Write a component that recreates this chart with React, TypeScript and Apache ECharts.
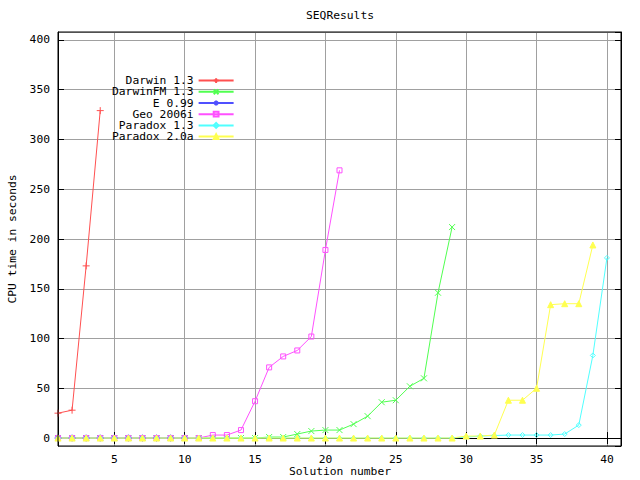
import React, { useEffect, useRef } from "react";
import * as echarts from "echarts";

const FONT = "'DejaVu Sans Mono', monospace";
const FS = 11.3;

const chartTitle = "SEQResults";
const xTitle = "Solution number";
const yTitle = "CPU time in seconds";

const seriesNames = ["Darwin 1.3", "DarwinFM 1.3", "E 0.99", "Geo 2006i", "Paradox 1.3", "Paradox 2.0a"];
const seriesColors = ["#ff5050", "#50ff50", "#5050ff", "#ff50ff", "#50ffff", "#ffff50"];

// CPU time in seconds, for solution numbers 1, 2, 3, ...
const darwin13 = [25, 28, 173, 329];
const darwinFM13 = [0, 0, 0, 0, 0, 0, 0, 0, 0, 0, 0, 0, 0, 0, 0, 1, 1, 4, 7, 8, 8, 14, 22, 36, 38, 52, 60, 146, 212];
const e099 = [0, 0, 0, 0, 0, 0, 0, 0, 0, 0];
const geo2006i = [0, 0, 0, 0, 0, 0, 0, 0, 0, 0, 0, 3, 3, 8, 37, 71, 82, 88, 102, 189, 269];
const paradox13 = [0, 0, 0, 0, 0, 0, 0, 0, 0, 0, 0, 0, 0, 0, 0, 0, 0, 0, 0, 0, 0, 0, 0, 0, 0, 0, 0, 0, 0, 1, 2, 2.5, 3, 3, 3, 3, 4, 13, 83, 181];
const paradox20a = [0, 0, 0, 0, 0, 0, 0, 0, 0, 0, 0, 0, 0, 0, 0, 0, 0, 0, 0, 0, 0, 0, 0, 0, 0, 0, 0, 0, 0, 2, 2, 3, 38, 38, 50, 134, 135, 135, 194];

const seriesValues = [darwin13, darwinFM13, e099, geo2006i, paradox13, paradox20a];

const SYM_PLUS = "path://M0,5L10,5M5,0L5,10";
const SYM_CROSS = "path://M0,0L10,10M10,0L0,10";
const SYM_STAR = "path://M0,5L10,5M5,0L5,10M1.5,1.5L8.5,8.5M8.5,1.5L1.5,8.5";
const SYM_SQUARE = "path://M0,0L10,0L10,10L0,10Z";
const SYM_DIAMOND = "path://M5,0L10,5L5,10L0,5Z";
const symbols = [SYM_PLUS, SYM_CROSS, SYM_STAR, SYM_SQUARE, SYM_DIAMOND, "triangle"];
const symbolSizes = [7, 6, 7, 5, 5, 6];
const filled = [false, false, false, false, false, true];

export default function App() {
  const ref = useRef<HTMLDivElement>(null);
  useEffect(() => {
    document.body.style.margin = "0";
    if (!ref.current) return;
    const chart = echarts.init(ref.current, null, { renderer: "svg" });
    const axisLineStyle = { color: "#000", width: 1 };
    const labelStyle = { fontFamily: FONT, fontSize: FS, color: "#000" };
    const series = seriesNames.map((name, i) => ({
      name,
      type: "line",
      data: seriesValues[i].map((v, k) => [k + 1, v]),
      symbol: symbols[i],
      symbolSize: symbolSizes[i],
      showAllSymbol: true,
      lineStyle: { color: seriesColors[i], width: 1 },
      itemStyle: {
        color: filled[i] ? seriesColors[i] : "rgba(0,0,0,0)",
        borderColor: seriesColors[i],
        borderWidth: 1,
      },
      emphasis: { disabled: true },
    }));
    chart.setOption({
      animation: false,
      backgroundColor: "#fff",
      grid: { left: 58, right: 19, top: 32, bottom: 34, show: true, borderColor: "#000", borderWidth: 1, z: 10, backgroundColor: "rgba(0,0,0,0)" },
      xAxis: [
        {
          type: "value", min: 1, max: 41, splitNumber: 8, position: "bottom",
          axisLine: { show: true, lineStyle: axisLineStyle },
          axisTick: { show: true, inside: true, length: 6, lineStyle: axisLineStyle },
          axisLabel: { ...labelStyle, margin: 8, lineHeight: 11, showMinLabel: false, showMaxLabel: false },
          splitLine: { show: true, lineStyle: { color: "#a0a0a0", width: 1 } },
        },
        {
          type: "value", min: 1, max: 41, splitNumber: 8, position: "top",
          axisLine: { show: true, lineStyle: axisLineStyle },
          axisTick: { show: true, inside: true, length: 6, lineStyle: axisLineStyle },
          axisLabel: { show: false },
          splitLine: { show: false },
        },
      ],
      yAxis: [
        {
          type: "value", min: -8, max: 408, splitNumber: 8, position: "left",
          axisLine: { show: true, lineStyle: axisLineStyle },
          axisTick: { show: true, inside: true, length: 6, lineStyle: axisLineStyle },
          axisLabel: { ...labelStyle, margin: 8, showMinLabel: false, showMaxLabel: false },
          splitLine: { show: true, lineStyle: { color: "#a0a0a0", width: 1 } },
        },
        {
          type: "value", min: -8, max: 408, splitNumber: 8, position: "right",
          axisLine: { show: true, lineStyle: axisLineStyle },
          axisTick: { show: true, inside: true, length: 6, lineStyle: axisLineStyle },
          axisLabel: { show: false },
          splitLine: { show: false },
        },
      ],
      legend: {
        orient: "vertical",
        left: 112,
        top: 75,
        align: "right",
        padding: 0,
        itemWidth: 35,
        itemHeight: 6,
        itemGap: 0,
        textStyle: { ...labelStyle, lineHeight: 11.2 },
        formatter: (name: string) => name.padStart(12, "\u00a0"),
        data: seriesNames,
        selectedMode: false,
      },
      graphic: [
        { type: "text", x: 340, y: 15, style: { text: chartTitle, fill: "#000", align: "center", verticalAlign: "middle", font: `${FS}px ${FONT}` } },
        { type: "text", x: 340, y: 471, style: { text: xTitle, fill: "#000", align: "center", verticalAlign: "middle", font: `${FS}px ${FONT}` } },
        { type: "text", x: 12, y: 239, rotation: Math.PI / 2, style: { text: yTitle, fill: "#000", align: "center", verticalAlign: "middle", font: `${FS}px ${FONT}` } },
      ],
      series,
    });
    return () => chart.dispose();
  }, []);
  return <div ref={ref} style={{ width: 640, height: 480 }} />;
}
